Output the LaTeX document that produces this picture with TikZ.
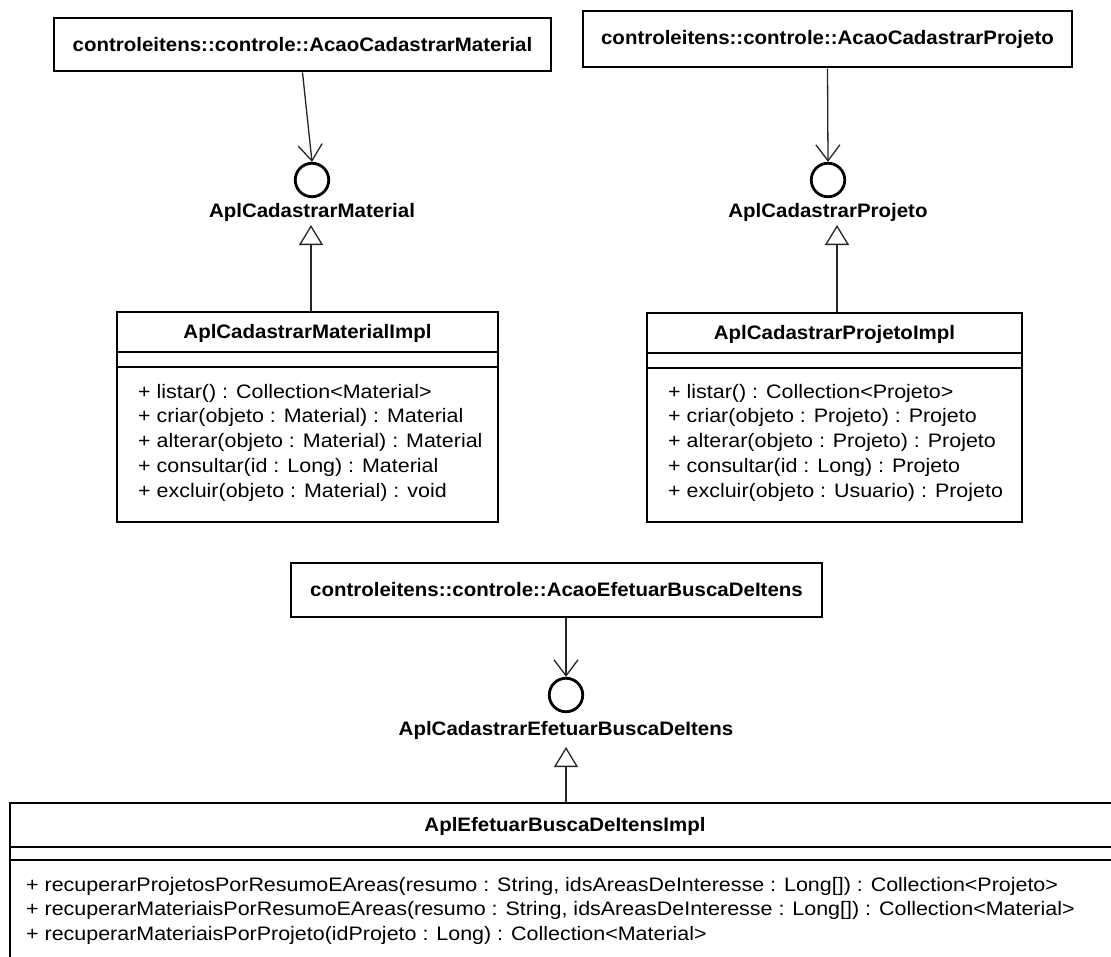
\documentclass[tikz,border=0pt]{standalone}
\usepackage{fontspec}
\setmainfont{Liberation Sans}[FakeStretch=1.1, BoldFeatures={FakeStretch=1.05}]
\usetikzlibrary{arrows.meta}

\tikzset{
  umltext/.style={font=\fontsize{19.5}{24.8}\selectfont},
  umlbold/.style={font=\fontsize{19.5}{24.8}\selectfont\bfseries},
  actorbox/.style={draw, line width=2.8pt, fill=white, inner sep=0pt, umlbold},
  classbox/.style={draw, line width=2.8pt, fill=white, inner sep=0pt},
  compsep/.style={line width=1.8pt},
  iface/.style={circle, draw, line width=2.8pt, fill=white, inner sep=0pt, minimum size=33.5pt},
  ifacename/.style={inner sep=0pt, umlbold},
  methods/.style={inner sep=0pt, align=left, anchor=north west, umltext},
  depend/.style={line width=1.3pt, draw=black!85,
    -{Straight Barb[length=16pt, width=24pt, line width=1.3pt]}},
  realize/.style={line width=1.3pt, draw=black!85,
    -{Triangle[open, length=20pt, width=24pt, line width=1.3pt, fill=white]}}
}

\newcommand{\rowstrut}{\rule[-7.5pt]{0pt}{24.8pt}}

\begin{document}
\begin{tikzpicture}[x=1pt, y=-1pt]
\useasboundingbox (0,0) rectangle (1111,956);
\clip (0,0) rectangle (1111,956);
\fill[white] (0,0) rectangle (1111,956);

% ---------- Material branch ----------
\node[actorbox, minimum width=497pt, minimum height=53pt] (b1) at (302.5,44.5)
  {controleitens::controle::AcaoCadastrarMaterial};
\node[iface] (c1) at (312,180) {};
\node[ifacename] (l1) at (312,212) {AplCadastrarMaterial};
\coordinate (t1) at (311,225);

\node[classbox, minimum width=381pt, minimum height=210pt] (m1) at (307.5,417) {};
\draw[compsep] (m1.west |- 0,352) -- (m1.east |- 0,352);
\draw[compsep] (m1.west |- 0,367) -- (m1.east |- 0,367);
\node[umlbold, inner sep=0pt] (m1t) at (307.5,333) {AplCadastrarMaterialImpl};
\node[methods] (m1ops) at (138,380.5) {%
  \rowstrut+ listar() : Collection<Material>\\
  \rowstrut+ criar(objeto : Material) : Material\\
  \rowstrut+ alterar(objeto : Material) : Material\\
  \rowstrut+ consultar(id : Long) : Material\\
  \rowstrut+ excluir(objeto : Material) : void};

\draw[depend] (b1.south) -- (c1.north);
\draw[realize] (m1.north -| t1) -- (t1);

% ---------- Projeto branch ----------
\node[actorbox, minimum width=489pt, minimum height=56pt] (b2) at (827.5,39)
  {controleitens::controle::AcaoCadastrarProjeto};
\node[iface] (c2) at (828,180) {};
\node[ifacename] (l2) at (828,212) {AplCadastrarProjeto};
\coordinate (t2) at (837,225);

\node[classbox, minimum width=375pt, minimum height=209pt] (m2) at (834.5,417.5) {};
\draw[compsep] (m2.west |- 0,353) -- (m2.east |- 0,353);
\draw[compsep] (m2.west |- 0,368) -- (m2.east |- 0,368);
\node[umlbold, inner sep=0pt] (m2t) at (834.5,334) {AplCadastrarProjetoImpl};
\node[methods] (m2ops) at (668,380.5) {%
  \rowstrut+ listar() : Collection<Projeto>\\
  \rowstrut+ criar(objeto : Projeto) : Projeto\\
  \rowstrut+ alterar(objeto : Projeto) : Projeto\\
  \rowstrut+ consultar(id : Long) : Projeto\\
  \rowstrut+ excluir(objeto : Usuario) : Projeto};

\draw[depend] (b2.south) -- (c2.north);
\draw[realize] (m2.north -| t2) -- (t2);

% ---------- Busca branch ----------
\node[actorbox, minimum width=531pt, minimum height=54pt] (b3) at (556.5,590)
  {controleitens::controle::AcaoEfetuarBuscaDeItens};
\node[iface] (c3) at (566,695) {};
\node[ifacename] (l3) at (566,730) {AplCadastrarEfetuarBuscaDeItens};
\coordinate (t3) at (566,747);

\node[classbox, minimum width=1110pt, minimum height=172pt] (m3) at (565,889) {};
\draw[compsep] (m3.west |- 0,847) -- (m3.east |- 0,847);
\draw[compsep] (m3.west |- 0,860) -- (m3.east |- 0,860);
\node[umlbold, inner sep=0pt] (m3t) at (565,826) {AplEfetuarBuscaDeItensImpl};
\node[methods] (m3ops) at (26,873.5) {%
  \rowstrut+ recuperarProjetosPorResumoEAreas(resumo : String, idsAreasDeInteresse : Long[]) : Collection<Projeto>\\
  \rowstrut+ recuperarMateriaisPorResumoEAreas(resumo : String, idsAreasDeInteresse : Long[]) : Collection<Material>\\
  \rowstrut+ recuperarMateriaisPorProjeto(idProjeto : Long) : Collection<Material>};

\draw[depend] (b3.south -| c3) -- (c3.north);
\draw[realize] (m3.north -| t3) -- (t3);
\end{tikzpicture}
\end{document}
